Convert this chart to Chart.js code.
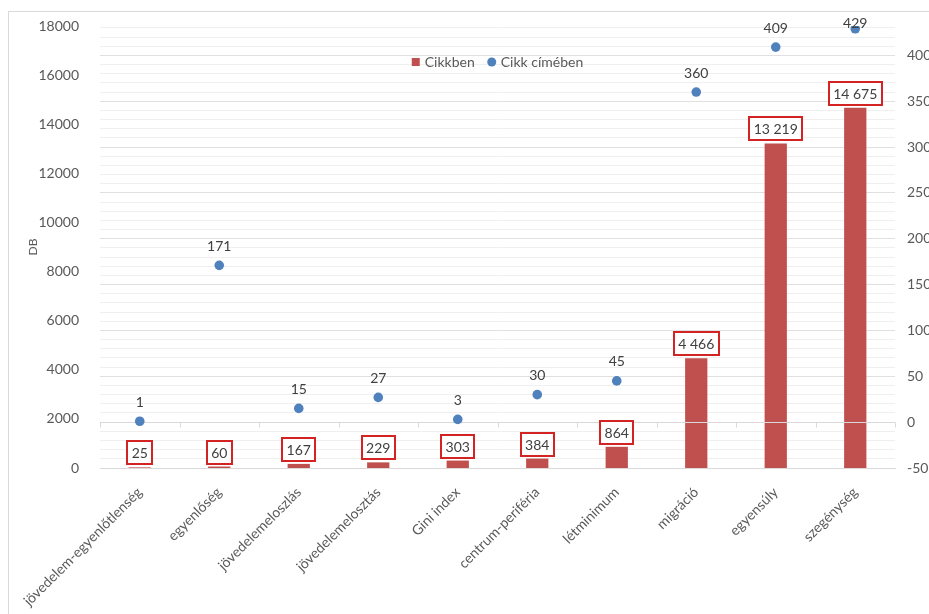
<!DOCTYPE html>
<html lang="hu">
<head>
    <meta charset="UTF-8">
    <title>Cikkben / Cikk címében</title>
    <script src="https://cdn.jsdelivr.net/npm/chart.js"></script>
    <style>
        html, body { margin: 0; padding: 0; background: #fff; overflow: hidden; }
        /* outer chart frame, only top and left edges are visible in the crop */
        #frame {
            position: absolute; left: 8px; top: 11px;
            width: 990px; height: 640px;
            border-left: 1px solid #d9d9d9; border-top: 1px solid #d9d9d9;
        }
        #box { position: relative; width: 970px; height: 603px; }
    </style>
</head>
<body>
    <div id="frame"><div id="box"><canvas id="chart"></canvas></div></div>

    <script>
        // data
        var categories = ['jövedelem-egyenlőtlenség', 'egyenlőség', 'jövedelemeloszlás', 'jövedelemelosztás',
                          'Gini index', 'centrum-periféria', 'létminimum', 'migráció', 'egyensúly', 'szegénység'];
        var inArticle = [25, 60, 167, 229, 303, 384, 864, 4466, 13219, 14675];   // Cikkben (left axis)
        var inTitle = [1, 171, 15, 27, 3, 30, 45, 360, 409, 429];                // Cikk címében (right axis)
        var leftTicks = [0, 2000, 4000, 6000, 8000, 10000, 12000, 14000, 16000, 18000];
        var rightTicks = [-50, 0, 50, 100, 150, 200, 250, 300, 350, 400];

        var FONT = 'Lato';
        var TEXT = '#595959';
        var BAR = '#C0504D';
        var DOT = '#4F81BD';

        function fmt(n) {
            return String(n).replace(/\B(?=(\d{3})+(?!\d))/g, ' ');
        }

        // keep the plot box where the reference has it
        function fixV(w) {
            return function (s) { s.width = w; s.paddingTop = 0; s.paddingBottom = 0; };
        }

        // zero line of the secondary axis, labels and the legend drawn inside the plot
        var extras = {
            id: 'extras',
            afterDatasetDraw: function (chart, args) {
                if (args.index !== 0) return;
                var ctx = chart.ctx, a = chart.chartArea, y1 = chart.scales.y1;
                var y0 = Math.round(y1.getPixelForValue(0)) + 0.5;
                var step = (a.right - a.left) / categories.length;
                ctx.save();
                ctx.strokeStyle = '#d9d9d9';
                ctx.lineWidth = 1;
                ctx.beginPath();
                ctx.moveTo(a.left, y0);
                ctx.lineTo(a.right, y0);
                for (var i = 0; i <= categories.length; i++) {
                    var px = Math.round(a.left + i * step) + 0.5;
                    ctx.moveTo(px, y0);
                    ctx.lineTo(px, y0 + 5);
                }
                ctx.stroke();
                ctx.restore();
            },
            afterDatasetsDraw: function (chart) {
                var ctx = chart.ctx, a = chart.chartArea;
                ctx.save();
                ctx.font = '14px ' + FONT;
                ctx.textAlign = 'center';
                ctx.textBaseline = 'middle';

                // boxed labels above the bars
                chart.getDatasetMeta(0).data.forEach(function (bar, i) {
                    var t = fmt(inArticle[i]);
                    var w = ctx.measureText(t).width + 9, h = 23;
                    var bottom = bar.y - 3;
                    ctx.fillStyle = '#fff';
                    ctx.fillRect(bar.x - w / 2, bottom - h, w, h);
                    ctx.strokeStyle = '#D42323';
                    ctx.lineWidth = 2;
                    ctx.strokeRect(Math.round(bar.x - w / 2), Math.round(bottom - h), Math.round(w), h);
                    ctx.fillStyle = '#404040';
                    ctx.fillText(t, bar.x, bottom - h / 2 + 1);
                });

                // labels above the points
                chart.getDatasetMeta(1).data.forEach(function (pt, i) {
                    var ly = Math.max(pt.y - 19, a.top - 3);
                    ctx.fillStyle = '#404040';
                    ctx.fillText(String(inTitle[i]), pt.x, ly);
                });

                // legend
                var ds = chart.data.datasets;
                var w1 = ctx.measureText(ds[0].label).width;
                var w2 = ctx.measureText(ds[1].label).width;
                var total = 8 + 5 + w1 + 13 + 8 + 5 + w2;
                var lx = (a.left + a.right) / 2 - total / 2;
                var ly2 = a.top + 36;
                ctx.textAlign = 'left';
                ctx.fillStyle = BAR;
                ctx.fillRect(lx, ly2 - 4, 8, 8);
                ctx.fillStyle = TEXT;
                ctx.fillText(ds[0].label, lx + 13, ly2);
                var cx = lx + 13 + w1 + 13;
                ctx.fillStyle = DOT;
                ctx.beginPath();
                ctx.arc(cx + 4, ly2, 4.5, 0, Math.PI * 2);
                ctx.fill();
                ctx.fillStyle = TEXT;
                ctx.fillText(ds[1].label, cx + 13, ly2);
                ctx.restore();
            }
        };

        var ctx = document.getElementById('chart').getContext('2d');
        var chart = new Chart(ctx, {
            type: 'bar',
            data: {
                labels: categories,
                datasets: [
                    {
                        label: 'Cikkben',
                        data: inArticle,
                        backgroundColor: BAR,
                        yAxisID: 'y',
                        order: 1,
                        categoryPercentage: 1,
                        barPercentage: 0.28
                    },
                    {
                        type: 'line',
                        label: 'Cikk címében',
                        data: inTitle,
                        yAxisID: 'y1',
                        order: 0,
                        showLine: false,
                        pointRadius: 4.8,
                        pointBorderWidth: 0,
                        pointBackgroundColor: DOT,
                        borderColor: DOT
                    }
                ]
            },
            options: {
                responsive: true,
                maintainAspectRatio: false,
                animation: false,
                layout: { padding: { top: 14, left: 0, right: 0, bottom: 0 } },
                plugins: {
                    legend: { display: false },
                    tooltip: { enabled: false }
                },
                scales: {
                    x: {
                        offset: true,
                        grid: { display: false },
                        border: { display: true, color: '#d9d9d9' },
                        ticks: {
                            minRotation: 45, maxRotation: 45, autoSkip: false,
                            color: TEXT, font: { family: FONT, size: 14 }, padding: 8
                        },
                        afterFit: function (s) { s.height = 147; s.paddingLeft = 0; s.paddingRight = 0; }
                    },
                    y: {
                        position: 'left',
                        min: leftTicks[0],
                        max: leftTicks[leftTicks.length - 1],
                        grid: { display: false },
                        border: { display: false },
                        ticks: {
                            stepSize: leftTicks[1] - leftTicks[0],
                            color: TEXT, font: { family: FONT, size: 14 }, padding: 13,
                            callback: function (v) { return String(v); }
                        },
                        title: {
                            display: true, text: 'DB', color: TEXT,
                            font: { family: FONT, size: 12 }, padding: { top: 17, bottom: 0 }
                        },
                        afterFit: fixV(91)
                    },
                    y1: {
                        position: 'right',
                        min: rightTicks[0],
                        max: 432,
                        grid: {
                            drawTicks: false,
                            color: function (c) {
                                return c.tick && rightTicks.indexOf(c.tick.value) >= 0 ? '#e0e0e0' : '#efefef';
                            }
                        },
                        border: { display: false },
                        ticks: {
                            stepSize: 10, autoSkip: false, includeBounds: false,
                            color: TEXT, font: { family: FONT, size: 14 }, padding: 12,
                            callback: function (v) { return rightTicks.indexOf(v) >= 0 ? String(v) : ''; }
                        },
                        afterFit: fixV(84)
                    }
                }
            },
            plugins: [extras]
        });
    </script>
</body>
</html>
